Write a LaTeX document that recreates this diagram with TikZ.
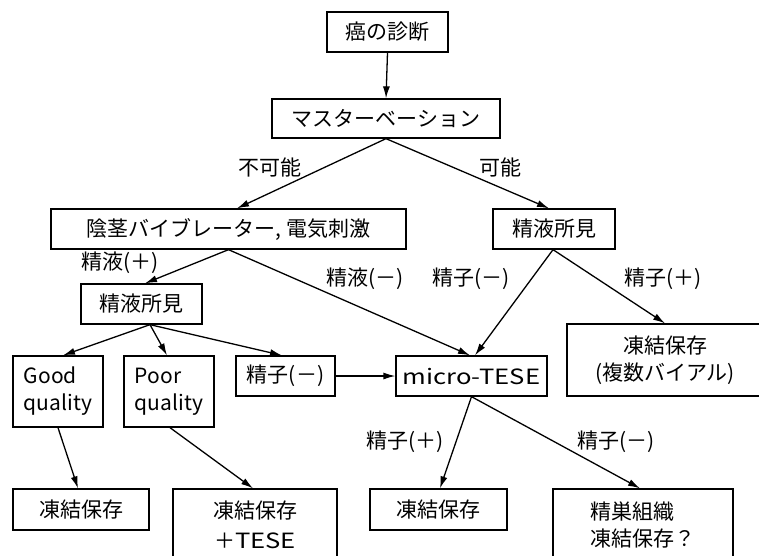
\documentclass[tikz,border=0pt]{standalone}
\usepackage{fontspec}
\setmainfont{Noto Sans CJK JP}
\newfontfamily\widefont[FakeStretch=1.22]{Noto Sans CJK JP}
\usetikzlibrary{arrows.meta}
\newcommand\figfont{\fontsize{21}{27}\selectfont}
\begin{document}
\begin{tikzpicture}[x=1pt,y=-1pt,
  box/.style={draw, line width=1.3pt, inner sep=0pt, font=\figfont, align=center},
  lbl/.style={font=\figfont, inner sep=0pt},
  arr/.style={line width=1.3pt, -{Latex[length=12pt,width=7pt]}}]
\useasboundingbox[fill=white] (0,0) rectangle (759,555);
% boxes
\node[box, minimum width=121pt, minimum height=40pt] (diag) at (387.5,32) {癌の診断};
\node[box, minimum width=228pt, minimum height=39pt] (mast) at (386,118.5) {マスターベーション};
\node[box, minimum width=355pt, minimum height=40pt] (vib) at (228.5,229) {陰茎バイブレーター, 電気刺激};
\node[box, minimum width=122pt, minimum height=40pt] (semR) at (554,229) {精液所見};
\node[box, minimum width=121pt, minimum height=40pt] (semL) at (141.5,304) {精液所見};
\node[box, minimum width=90pt, minimum height=71pt, align=left] (good) at (58,391.5) {Good\\quality};
\node[box, minimum width=90pt, minimum height=71pt, align=left] (poor) at (169,391.5) {Poor\\quality};
\node[box, minimum width=99pt, minimum height=40pt] (spneg) at (285.5,376) {精子(－)};
\node[box, minimum width=151pt, minimum height=40pt] (tese) at (471.5,376) {\widefont micro-TESE};
\node[box, minimum width=196pt, minimum height=72pt] (frzM) at (665,360) {凍結保存\\(複数バイアル)};
\node[box, minimum width=136pt, minimum height=41pt] (frzA) at (81,509.5) {凍結保存};
\node[box, minimum width=164pt, minimum height=71pt] (frzT) at (255,524.5) {凍結保存\\[3pt]＋{\widefont TESE}};
\node[box, minimum width=137pt, minimum height=41pt] (frzB) at (438.5,509.5) {凍結保存};
\node[box, minimum width=180pt, minimum height=72pt, align=left] (testis) at (643,525) {精巣組織\\凍結保存？};
% labels
\node[lbl] (l1) at (270,167) {不可能};
\node[lbl] (l2) at (500,167) {可能};
\node[lbl] (l3) at (120,263) {精液(＋)};
\node[lbl] (l4) at (365,279) {精液(－)};
\node[lbl] (l5) at (471,279) {精子(－)};
\node[lbl] (l6) at (663,279) {精子(＋)};
\node[lbl] (l7) at (405,442) {精子(＋)};
\node[lbl] (l8) at (616,442) {精子(－)};
% connectors
\draw[arr] (diag.south) -- (mast.north);
\draw[arr] (mast.south) -- ([xshift=8.5pt]vib.north);
\draw[arr] (mast.south) -- ([xshift=-5pt]semR.north);
\draw[arr] (vib.south) -- ([xshift=3.5pt]semL.north);
\draw[arr] (vib.south) -- ([xshift=-1.5pt]tese.north);
\draw[arr] ([xshift=-1pt]semR.south) -- ([xshift=3.5pt]tese.north);
\draw[arr] ([xshift=-1pt]semR.south) -- (frzM.north);
\draw[arr] ([xshift=8.5pt]semL.south) -- ([xshift=5pt]good.north);
\draw[arr] ([xshift=8.5pt]semL.south) -- ([xshift=-2pt]poor.north);
\draw[arr] ([xshift=8.5pt]semL.south) -- ([xshift=-3.5pt]spneg.north);
\draw[arr] (spneg.east) -- (tese.west);
\draw[arr] (tese.south) -- ([xshift=1.5pt]frzB.north);
\draw[arr] (tese.south) -- ([xshift=-3pt]testis.north);
\draw[arr] (good.south) -- ([xshift=-3pt]frzA.north);
\draw[arr] ([xshift=1pt]poor.south) -- ([xshift=-2pt]frzT.north);
\end{tikzpicture}
\end{document}
